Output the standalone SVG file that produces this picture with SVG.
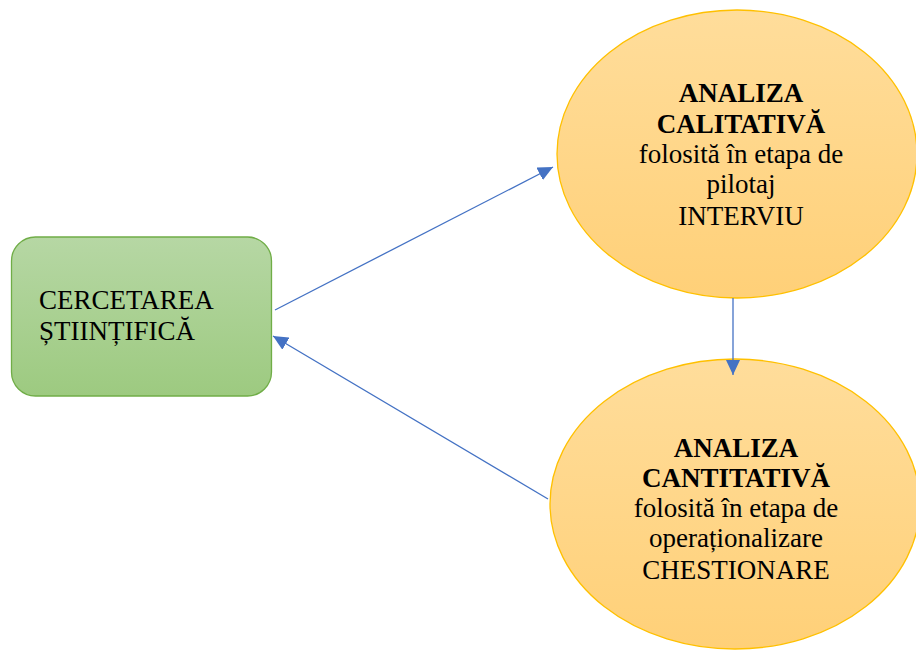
<svg xmlns="http://www.w3.org/2000/svg" width="916" height="654" viewBox="0 0 916 654">
<style>
text{font-family:"Liberation Serif","Times New Roman",serif;font-size:27px;fill:#000}
.b{font-weight:bold}
.c{text-anchor:middle}
.conn line{stroke:#4472C4;stroke-width:1.3;fill:none}
</style>
<defs>
<linearGradient id="gg" x1="0" y1="0" x2="0" y2="1"><stop offset="0" stop-color="#B6D7A4"/><stop offset="1" stop-color="#9DCA80"/></linearGradient>
<linearGradient id="yg" x1="0" y1="0" x2="0" y2="1"><stop offset="0" stop-color="#FFDD9B"/><stop offset="1" stop-color="#FFD078"/></linearGradient>
<marker id="ah" markerWidth="16" markerHeight="14" viewBox="0 0 16 14" refX="15" refY="7" orient="auto" markerUnits="userSpaceOnUse">
<path d="M0,0 L15,7 L0,14 Z" fill="#4472C4"/>
</marker>
</defs>
<g id="cercetarea">
<rect x="11.5" y="237" width="260" height="159" rx="24" fill="url(#gg)" stroke="#70AD47" stroke-width="1.3"/>
<text x="39" y="309">CERCETAREA</text>
<text x="39" y="340">ȘTIINȚIFICĂ</text>
</g>
<g id="calitativa">
<ellipse cx="737" cy="154" rx="180" ry="144" fill="url(#yg)" stroke="#FFC000" stroke-width="1.3"/>
<text class="c b" x="741" y="102">ANALIZA</text>
<text class="c b" x="741" y="133">CALITATIVĂ</text>
<text class="c" x="741" y="163">folosită în etapa de</text>
<text class="c" x="741" y="193">pilotaj</text>
<text class="c" x="741" y="225">INTERVIU</text>
</g>
<g id="cantitativa">
<ellipse cx="735" cy="504" rx="185" ry="145" fill="url(#yg)" stroke="#FFC000" stroke-width="1.3"/>
<text class="c b" x="736" y="457">ANALIZA</text>
<text class="c b" x="736" y="487">CANTITATIVĂ</text>
<text class="c" x="736" y="517">folosită în etapa de</text>
<text class="c" x="736" y="547">operaționalizare</text>
<text class="c" x="736" y="579">CHESTIONARE</text>
</g>
<g id="connectors" class="conn">
<line x1="275" y1="310" x2="553" y2="167" marker-end="url(#ah)"/>
<line x1="733" y1="298" x2="733" y2="375" marker-end="url(#ah)"/>
<line x1="548" y1="499" x2="273" y2="336" marker-end="url(#ah)"/>
</g>
</svg>
